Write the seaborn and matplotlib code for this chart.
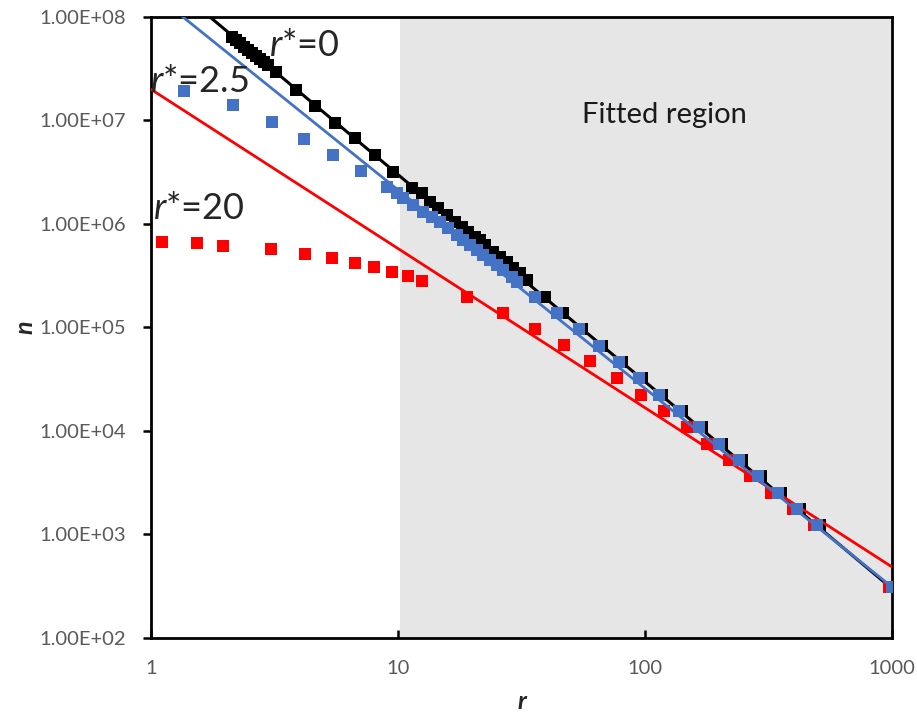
import matplotlib
matplotlib.use("Agg")
import matplotlib.pyplot as plt
import matplotlib.ticker as mticker
import seaborn as sns

# r* = 0 series (black)
r_black = [2.128, 2.208, 2.293, 2.379, 2.470, 2.564, 2.662, 2.763, 2.868, 2.977,
           3.207, 3.864, 4.613, 5.559, 6.699, 8.070,
           9.546, 11.39, 12.51, 13.48, 14.52, 15.79, 17.02, 18.16, 19.20, 20.50,
           21.48, 22.50, 24.25, 25.88, 27.63, 29.21, 31.18, 33.30,
           39.37, 46.56, 55.58, 66.98, 80.70, 97.25, 117.2, 141.2, 170.2, 205.0,
           247.0, 294.9, 355.3, 424.2, 511.0, 1000]
n_black = [6.41e7, 6.00e7, 5.61e7, 5.13e7, 4.80e7, 4.49e7, 4.20e7, 3.93e7, 3.67e7, 3.44e7,
           2.94e7, 1.97e7, 1.38e7, 9.46e6, 6.77e6, 4.64e6,
           3.18e6, 2.23e6, 1.99e6, 1.63e6, 1.43e6, 1.22e6, 1.05e6, 9.35e5, 8.37e5, 7.49e5,
           7.00e5, 6.27e5, 5.36e5, 4.80e5, 4.30e5, 3.76e5, 3.36e5, 2.88e5,
           1.97e5, 1.38e5, 9.67e4, 6.63e4, 4.64e4, 3.25e4, 2.23e4, 1.56e4, 1.09e4, 7.49e3,
           5.24e3, 3.67e3, 2.52e3, 1.76e3, 1.24e3, 311]

# r* = 2.5 series (blue)
r_blue = [1.360, 2.148, 3.090, 4.164, 5.456, 7.083, 9.026, 9.908,
          10.48, 11.50, 12.63, 13.73, 14.79, 15.94, 17.33, 18.33, 19.56, 20.89,
          22.09, 23.58, 25.17, 26.61, 28.94, 30.33, 35.86,
          44.02, 54.05, 65.13, 78.47, 94.56, 113.9, 137.3, 165.4, 199.4, 240.3,
          286.8, 345.5, 412.6, 497.1, 1000]
n_blue = [1.93e7, 1.41e7, 9.67e6, 6.63e6, 4.64e6, 3.25e6, 2.28e6, 1.99e6,
          1.78e6, 1.53e6, 1.31e6, 1.17e6, 1.05e6, 9.15e5, 7.83e5, 7.00e5, 6.27e5, 5.61e5,
          5.02e5, 4.49e5, 4.02e5, 3.59e5, 3.08e5, 2.75e5, 1.97e5,
          1.38e5, 9.67e4, 6.63e4, 4.64e4, 3.25e4, 2.23e4, 1.56e4, 1.09e4, 7.49e3, 5.24e3,
          3.67e3, 2.52e3, 1.76e3, 1.24e3, 311]

# r* = 20 series (red)
r_red = [1.108, 1.535, 1.957, 3.061, 4.203, 5.405, 6.699, 7.993, 9.456, 10.98, 12.51,
         19.03, 26.61, 35.86, 47.00, 59.90, 77.02, 96.34, 119.4, 147.9, 178.2,
         218.9, 266.1, 323.6, 397.4, 483.4, 975]
n_red = [6.70e5, 6.55e5, 6.13e5, 5.73e5, 5.13e5, 4.69e5, 4.20e5, 3.84e5, 3.44e5, 3.15e5, 2.81e5,
         1.97e5, 1.38e5, 9.67e4, 6.77e4, 4.75e4, 3.25e4, 2.23e4, 1.56e4, 1.09e4, 7.49e3,
         5.24e3, 3.67e3, 2.52e3, 1.76e3, 1.24e3, 311]

# power-law fits, given by their end values at r = 1 and r = 1000
fit_r = [1, 1000]
fit_black = [3.0e8, 300]
fit_blue = [1.77e8, 311]
fit_red = [2.0e7, 486]

x_ticks = [1, 10, 100, 1000]
y_ticks = [1e2, 1e3, 1e4, 1e5, 1e6, 1e7, 1e8]

sns.set_style("white")
plt.rcParams['font.family'] = ['Lato', 'DejaVu Sans']
plt.rcParams['mathtext.fontset'] = 'custom'
plt.rcParams['mathtext.it'] = 'Lato:italic'
plt.rcParams['mathtext.rm'] = 'Lato'

BLACK = '#000000'
BLUE = '#4472c4'
RED = '#ff0000'

fig = plt.figure(figsize=(9.17, 7.2), dpi=100)
ax = fig.add_axes([0.1647, 0.1139, 0.8080, 0.8625])

# shaded fitted region
ax.axvspan(10.2, 1000, color='#e6e6e6', zorder=0, lw=0)

sns.lineplot(x=fit_r, y=fit_black, color=BLACK, lw=2.2, ax=ax, zorder=2)
sns.scatterplot(x=r_black, y=n_black, color=BLACK, marker='s', s=75, linewidth=0, ax=ax, zorder=3)
sns.lineplot(x=fit_r, y=fit_red, color=RED, lw=2.0, ax=ax, zorder=4)
sns.scatterplot(x=r_red, y=n_red, color=RED, marker='s', s=80, linewidth=0, ax=ax, zorder=4)
sns.lineplot(x=fit_r, y=fit_blue, color=BLUE, lw=2.0, ax=ax, zorder=5)
sns.scatterplot(x=r_blue, y=n_blue, color=BLUE, marker='s', s=80, linewidth=0, ax=ax, zorder=6)

ax.set_xscale('log')
ax.set_yscale('log')
ax.set_xlim(1, 1000)
ax.set_ylim(1e2, 1e8)

ax.set_xticks(x_ticks)
ax.xaxis.set_major_formatter(mticker.FuncFormatter(lambda v, p: f"{v:g}"))
ax.set_yticks(y_ticks)
ax.yaxis.set_major_formatter(mticker.FuncFormatter(lambda v, p: f"{v:.2E}"))
ax.minorticks_off()
ax.tick_params(axis='x', direction='in', length=6, width=1.8, colors='black',
               labelcolor='#595959', labelsize=14.5, pad=16, bottom=True)
ax.tick_params(axis='y', direction='out', length=6, width=1.8, colors='black',
               labelcolor='#595959', labelsize=14.5, pad=12, left=True)

for sp in ax.spines.values():
    sp.set_color('black')
    sp.set_linewidth(2.0)

ax.set_xlabel('r', fontsize=18, fontweight='bold', fontstyle='italic', labelpad=9)
ax.set_ylabel('n', fontsize=18, fontweight='bold', fontstyle='italic', labelpad=2)

ax.text(3.0, 5.3e7, r'$r$*=0', fontsize=26, va='center', ha='left', zorder=7)
ax.text(0.99, 2.4e7, r'$r$*=2.5', fontsize=26, va='center', ha='left', zorder=7)
ax.text(1.02, 1.4e6, r'$r$*=20', fontsize=26, va='center', ha='left', zorder=7)
ax.text(120, 1.13e7, 'Fitted region', fontsize=21, va='center', ha='center',
        color='#1a1a1a', zorder=7)

fig.savefig('out.png', dpi=100)
